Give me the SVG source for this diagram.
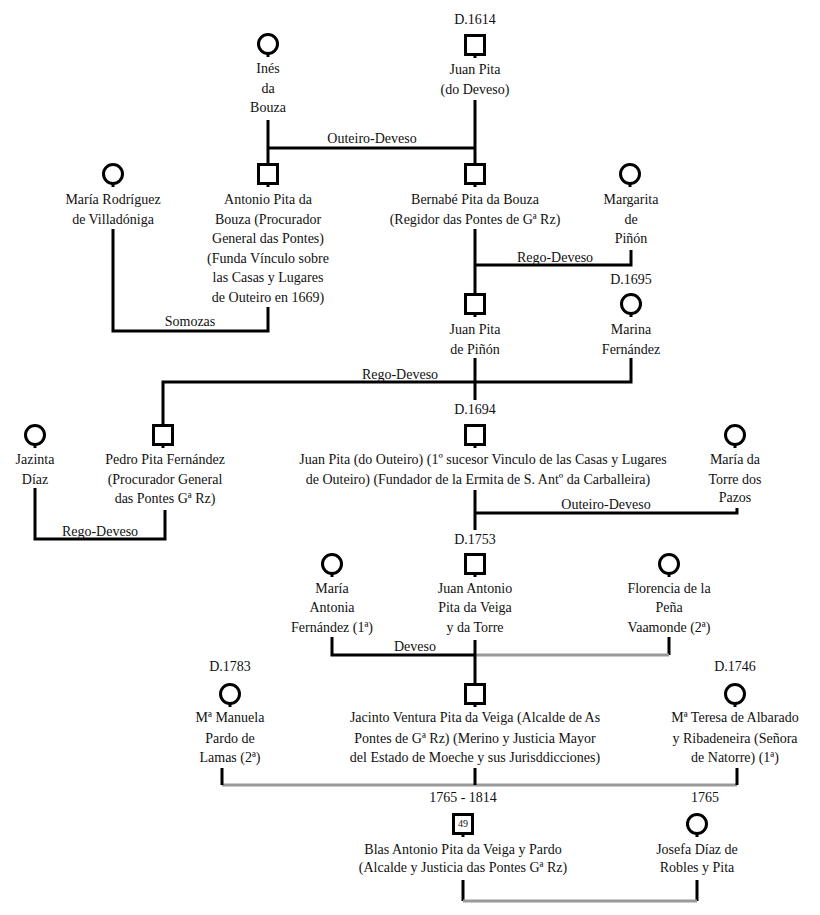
<svg xmlns="http://www.w3.org/2000/svg" width="820" height="915" viewBox="0 0 820 915">
<style>
text{font-family:"Liberation Serif","DejaVu Serif",serif;font-size:14px;fill:#111;text-anchor:middle}
.sq{fill:#fff;stroke:#000;stroke-width:3}
.ci{fill:#fff;stroke:#000;stroke-width:3}
.k{fill:none;stroke:#000;stroke-width:3}
.g{fill:none;stroke:#999;stroke-width:3}
.n{font-size:10px}
</style>
<defs>
<g id="m"><rect class="sq" x="-9.5" y="-9.5" width="19" height="19"/><line class="k" x1="0" y1="9" x2="0" y2="13" stroke-width="2"/></g>
<g id="f"><circle class="ci" cx="0" cy="0" r="9.5"/><line class="k" x1="0" y1="9" x2="0" y2="13" stroke-width="2"/></g>
</defs>
<g id="connectors">
<path class="k" d="M268,120V164M475,100V164M268,148H475"/>
<path class="k" d="M268,307V331H113V229"/>
<path class="k" d="M475,229V294M475,265H631V250"/>
<path class="k" d="M631,358V382H163V424M475,358V400"/>
<path class="k" d="M35,488V539H165V510"/>
<path class="k" d="M475,490V530M475,513H737V508"/>
<path class="k" d="M332,637V655H475M669,637V655"/>
<path class="g" d="M475,655H669"/>
<path class="k" d="M475,640V683"/>
<path class="g" d="M222,785H737"/>
<path class="k" d="M222,768V785M475,768V785M737,768V785"/>
<path class="k" d="M463,880V901M697,880V901"/>
<path class="g" d="M463,901H697"/>
<text x="372" y="143">Outeiro-Deveso</text>
<text x="190" y="326">Somozas</text>
<text x="555" y="262">Rego-Deveso</text>
<text x="400" y="379">Rego-Deveso</text>
<text x="100" y="536">Rego-Deveso</text>
<text x="606" y="509">Outeiro-Deveso</text>
<text x="415" y="651">Deveso</text>
</g>
<g id="ines"><use href="#f" x="268" y="44"/><text x="268" y="73">Inés</text><text x="268" y="93">da</text><text x="268" y="112">Bouza</text></g>
<g id="juanpita1614"><text x="475" y="24">D.1614</text><use href="#m" x="475" y="45"/><text x="475" y="74">Juan Pita</text><text x="475" y="94">(do Deveso)</text></g>
<g id="mariarodriguez"><use href="#f" x="113" y="174"/><text x="113" y="204">María Rodríguez</text><text x="113" y="224">de Villadóniga</text></g>
<g id="antonio"><use href="#m" x="268" y="174"/><text x="268" y="204">Antonio Pita da</text><text x="268" y="224">Bouza (Procurador</text><text x="268" y="243">General das Pontes)</text><text x="268" y="263">(Funda Vínculo sobre</text><text x="268" y="282">las Casas y Lugares</text><text x="268" y="302">de Outeiro en 1669)</text></g>
<g id="bernabe"><use href="#m" x="475" y="174"/><text x="475" y="204">Bernabé Pita da Bouza</text><text x="475" y="224">(Regidor das Pontes de Gª Rz)</text></g>
<g id="margarita"><use href="#f" x="630" y="174"/><text x="631" y="204">Margarita</text><text x="631" y="224">de</text><text x="631" y="243">Piñón</text></g>
<g id="juanpitapinon"><use href="#m" x="475" y="304"/><text x="475" y="334">Juan Pita</text><text x="475" y="354">de Piñón</text></g>
<g id="marina"><text x="631" y="284">D.1695</text><use href="#f" x="631" y="304"/><text x="631" y="334">Marina</text><text x="631" y="354">Fernández</text></g>
<g id="jazinta"><use href="#f" x="35" y="435"/><text x="35" y="464">Jazinta</text><text x="35" y="484">Díaz</text></g>
<g id="pedro"><use href="#m" x="163" y="435"/><text x="165" y="464">Pedro Pita Fernández</text><text x="165" y="484">(Procurador General</text><text x="165" y="503">das Pontes Gª Rz)</text></g>
<g id="juanpitaouteiro"><text x="475" y="414">D.1694</text><use href="#m" x="475" y="435"/><text x="483" y="464">Juan Pita (do Outeiro) (1º sucesor Vinculo de las Casas y Lugares</text><text x="478" y="484">de Outeiro) (Fundador de la Ermita de S. Antº da Carballeira)</text></g>
<g id="mariatorre"><use href="#f" x="735" y="435"/><text x="735" y="464">María da</text><text x="735" y="484">Torre dos</text><text x="735" y="502">Pazos</text></g>
<g id="juanantonio"><text x="475" y="544">D.1753</text><use href="#m" x="475" y="564"/><text x="475" y="593">Juan Antonio</text><text x="475" y="612">Pita da Veiga</text><text x="475" y="632">y da Torre</text></g>
<g id="mariaantonia"><use href="#f" x="332" y="564"/><text x="332" y="593">María</text><text x="332" y="612">Antonia</text><text x="332" y="632">Fernández (1ª)</text></g>
<g id="florencia"><use href="#f" x="669" y="564"/><text x="669" y="593">Florencia de la</text><text x="669" y="612">Peña</text><text x="669" y="632">Vaamonde (2ª)</text></g>
<g id="jacinto"><use href="#m" x="475" y="694"/><text x="475" y="722">Jacinto Ventura Pita da Veiga (Alcalde de As</text><text x="475" y="743">Pontes de Gª Rz) (Merino y Justicia Mayor</text><text x="475" y="762">del Estado de Moeche y sus Jurisddicciones)</text></g>
<g id="manuela"><text x="230" y="671">D.1783</text><use href="#f" x="230" y="694"/><text x="230" y="722">Mª Manuela</text><text x="230" y="743">Pardo de</text><text x="230" y="762">Lamas (2ª)</text></g>
<g id="teresa"><text x="735" y="671">D.1746</text><use href="#f" x="735" y="694"/><text x="735" y="722">Mª Teresa de Albarado</text><text x="735" y="743">y Ribadeneira  (Señora</text><text x="735" y="762">de Natorre) (1ª)</text></g>
<g id="blas"><text x="463" y="802">1765 - 1814</text><use href="#m" x="463" y="824"/><text class="n" x="463" y="827">49</text><text x="463" y="854">Blas Antonio Pita da Veiga y Pardo</text><text x="463" y="872">(Alcalde y Justicia das Pontes Gª Rz)</text></g>
<g id="josefa"><text x="705" y="802">1765</text><use href="#f" x="697" y="824"/><text x="697" y="854">Josefa Díaz de</text><text x="697" y="872">Robles y Pita</text></g>
</svg>
